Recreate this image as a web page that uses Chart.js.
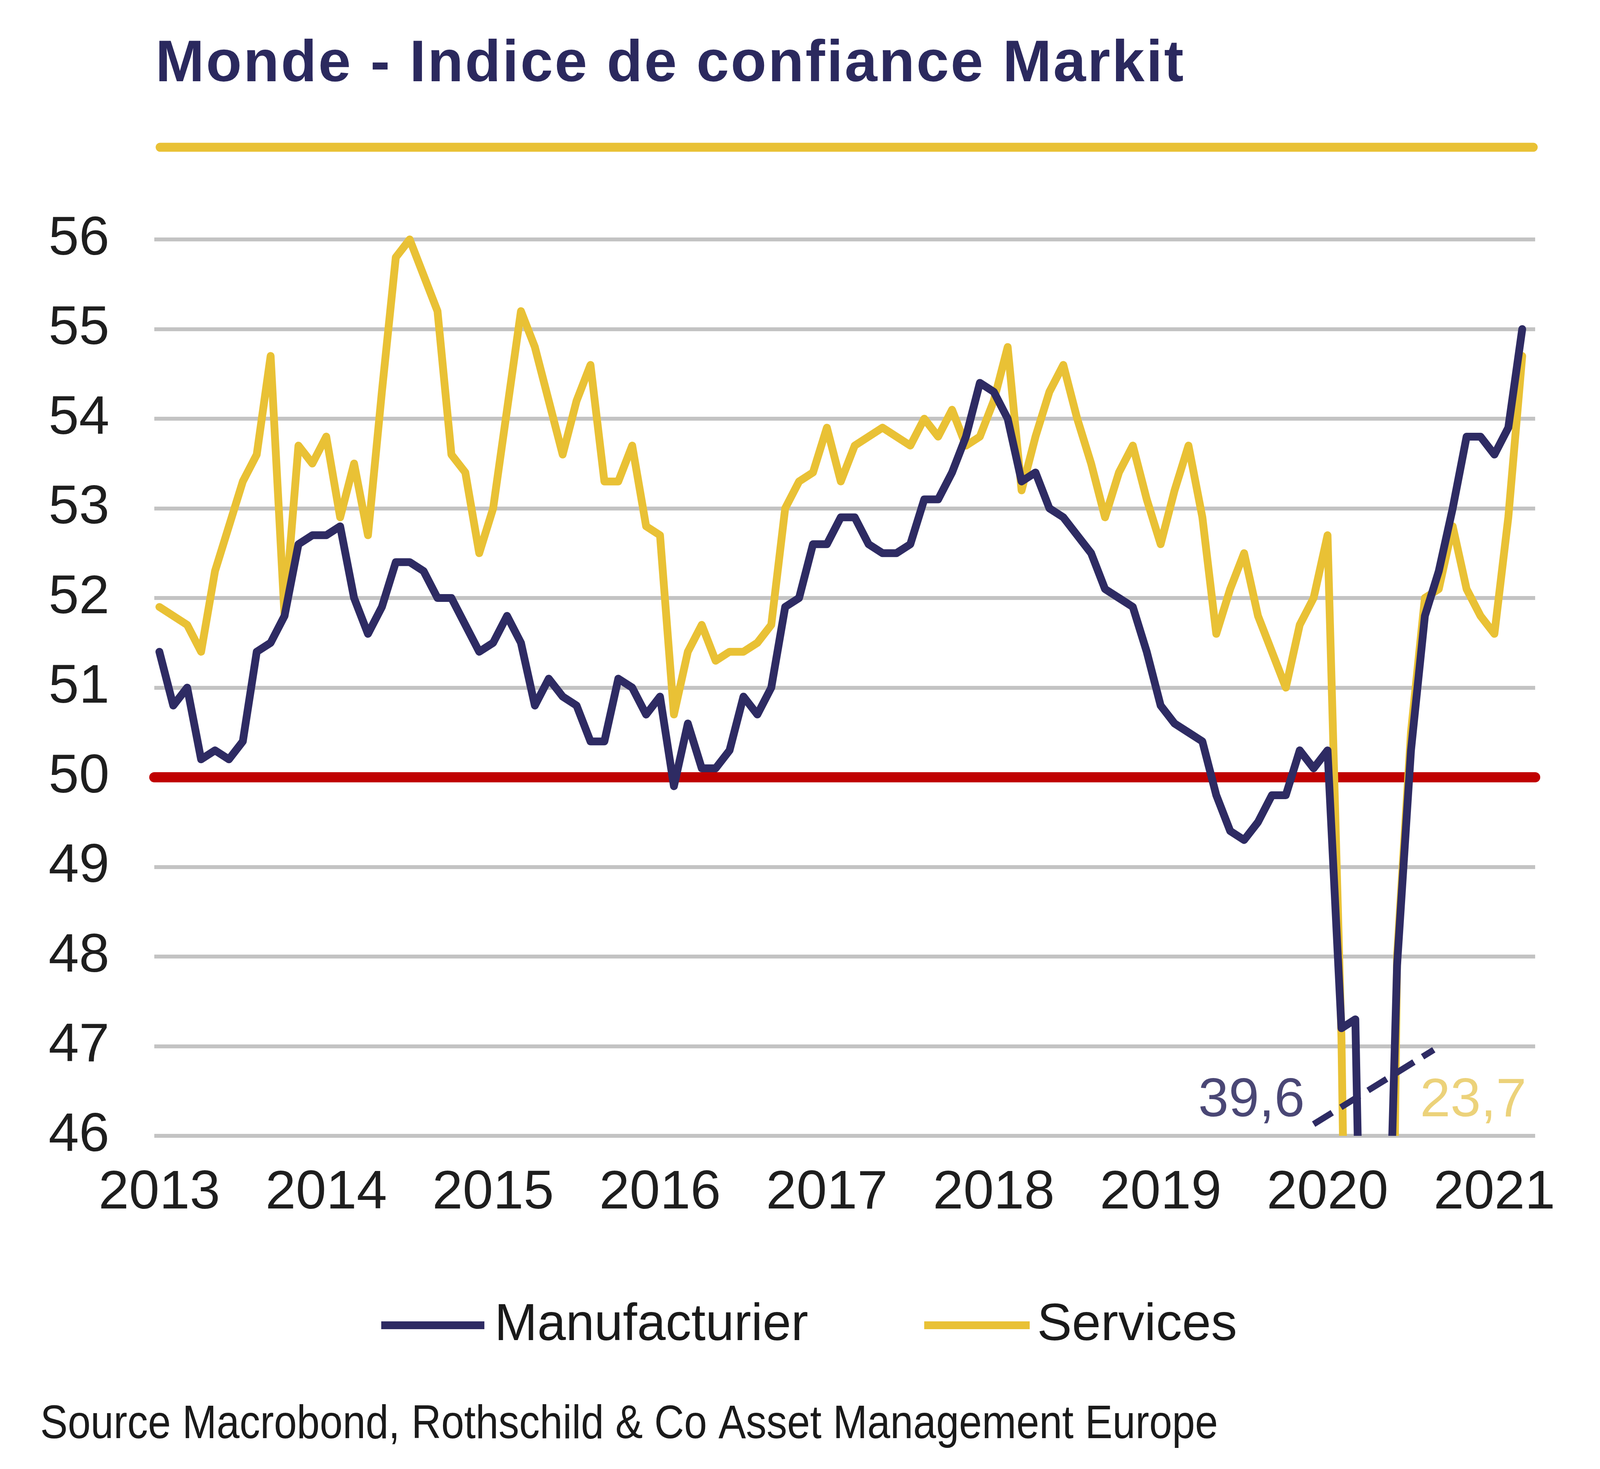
<!DOCTYPE html>
<html>
<head>
<meta charset="utf-8">
<script src="https://cdn.jsdelivr.net/npm/chart.js@4.4.1/dist/chart.umd.min.js"></script>
<style>
  html, body { margin: 0; padding: 0; background: #fff; }
</style>
</head>
<body>
<canvas id="myChart" width="4224" height="3761"></canvas>
<script>
// Data, one value per month from Jan 2013 to Mar 2021
let yearLabels = ['2013', '2014', '2015', '2016', '2017', '2018', '2019', '2020', '2021'];
let seriesNames = ['Manufacturier', 'Services'];
let seriesColors = ['#2e2b63', '#e9c135'];
let threshold = 50;

let manufacturier = [
  51.4, 50.8, 51.0, 50.2, 50.3, 50.2, 50.4, 51.4, 51.5, 51.8, 52.6, 52.7,
  52.7, 52.8, 52.0, 51.6, 51.9, 52.4, 52.4, 52.3, 52.0, 52.0, 51.7, 51.4,
  51.5, 51.8, 51.5, 50.8, 51.1, 50.9, 50.8, 50.4, 50.4, 51.1, 51.0, 50.7,
  50.9, 49.9, 50.6, 50.1, 50.1, 50.3, 50.9, 50.7, 51.0, 51.9, 52.0, 52.6,
  52.6, 52.9, 52.9, 52.6, 52.5, 52.5, 52.6, 53.1, 53.1, 53.4, 53.8, 54.4,
  54.3, 54.0, 53.3, 53.4, 53.0, 52.9, 52.7, 52.5, 52.1, 52.0, 51.9, 51.4,
  50.8, 50.6, 50.5, 50.4, 49.8, 49.4, 49.3, 49.5, 49.8, 49.8, 50.3, 50.1,
  50.3, 47.2, 47.3, 39.6, 42.4, 47.9, 50.3, 51.8, 52.3, 53.0, 53.8, 53.8,
  53.6, 53.9, 55.0
];

let services = [
  51.9, 51.8, 51.7, 51.4, 52.3, 52.8, 53.3, 53.6, 54.7, 51.8, 53.7, 53.5,
  53.8, 52.9, 53.5, 52.7, 54.3, 55.8, 56.0, 55.6, 55.2, 53.6, 53.4, 52.5,
  53.0, 54.1, 55.2, 54.8, 54.2, 53.6, 54.2, 54.6, 53.3, 53.3, 53.7, 52.8,
  52.7, 50.7, 51.4, 51.7, 51.3, 51.4, 51.4, 51.5, 51.7, 53.0, 53.3, 53.4,
  53.9, 53.3, 53.7, 53.8, 53.9, 53.8, 53.7, 54.0, 53.8, 54.1, 53.7, 53.8,
  54.2, 54.8, 53.2, 53.8, 54.3, 54.6, 54.0, 53.5, 52.9, 53.4, 53.7, 53.1,
  52.6, 53.2, 53.7, 52.9, 51.6, 52.1, 52.5, 51.8, 51.4, 51.0, 51.7, 52.0,
  52.7, 47.1, 37.0, 23.7, 35.1, 48.0, 50.5, 52.0, 52.1, 52.8, 52.1, 51.8,
  51.6, 52.9, 54.7
];

let fontFamily = '"Liberation Sans", Arial, sans-serif';

function toPoints(values) {
  return values.map((v, i) => ({ x: i, y: v }));
}

function fmt(v) {
  return v.toFixed(1).replace('.', ',');
}

// draws text squeezed or spread to a given width
function fitText(c, text, x, y, width) {
  let natural = c.measureText(text).width;
  if (natural >= width) {
    c.save();
    c.translate(x, y);
    c.scale(width / natural, 1);
    c.fillText(text, 0, 0);
    c.restore();
    return;
  }
  let extra = (width - natural) / (text.length - 1);
  let cx = x;
  for (let i = 0; i < text.length; i++) {
    c.fillText(text[i], cx, y);
    cx += c.measureText(text[i]).width + extra;
  }
}

let decor = {
  id: 'decor',
  beforeDatasetsDraw(chart) {
    let c = chart.ctx;
    let area = chart.chartArea;
    let y = chart.scales.y.getPixelForValue(threshold);
    c.save();
    c.strokeStyle = '#c00000';
    c.lineWidth = 26;
    c.lineCap = 'round';
    c.beginPath();
    c.moveTo(area.left, y);
    c.lineTo(area.right, y);
    c.stroke();
    c.restore();
  },
  afterDraw(chart) {
    let c = chart.ctx;
    let xs = chart.scales.x;
    let ys = chart.scales.y;
    c.save();
    c.textAlign = 'left';
    c.textBaseline = 'alphabetic';

    // title
    c.fillStyle = '#2b295e';
    c.font = 'bold 150px ' + fontFamily;
    fitText(c, 'Monde - Indice de confiance Markit', 398, 208, 2632);

    // gold rule under the title
    c.strokeStyle = '#e9c135';
    c.lineWidth = 23;
    c.lineCap = 'round';
    c.beginPath();
    c.moveTo(410, 377);
    c.lineTo(3925, 377);
    c.stroke();

    // axis break marker
    c.lineCap = 'butt';
    c.strokeStyle = seriesColors[0];
    c.lineWidth = 16;
    c.setLineDash([56, 26]);
    c.beginPath();
    c.moveTo(xs.getPixelForValue(83.0), ys.getPixelForValue(46.13));
    c.lineTo(xs.getPixelForValue(91.64), ys.getPixelForValue(46.96));
    c.stroke();
    c.setLineDash([]);

    // lowest values, off the scale
    c.font = '140px ' + fontFamily;
    c.fillStyle = '#4a4775';
    c.textAlign = 'right';
    c.fillText(fmt(Math.min(...manufacturier)), xs.getPixelForValue(82.36), ys.getPixelForValue(46.22));
    c.fillStyle = '#ecd27a';
    c.textAlign = 'left';
    c.fillText(fmt(Math.min(...services)), xs.getPixelForValue(90.65), ys.getPixelForValue(46.22));

    // legend
    let legendItems = [
      { lineFrom: 976, lineTo: 1240, textX: 1266, textW: 803 },
      { lineFrom: 2366, lineTo: 2636, textX: 2655, textW: 512 }
    ];
    c.font = '134px ' + fontFamily;
    legendItems.forEach((item, i) => {
      c.strokeStyle = seriesColors[i];
      c.lineWidth = 20;
      c.beginPath();
      c.moveTo(item.lineFrom, 3393);
      c.lineTo(item.lineTo, 3393);
      c.stroke();
      c.fillStyle = '#1a1a1a';
      fitText(c, seriesNames[i], item.textX, 3431, item.textW);
    });

    // source
    c.font = '120px ' + fontFamily;
    c.fillStyle = '#1a1a1a';
    fitText(c, 'Source Macrobond, Rothschild & Co Asset Management Europe', 103, 3682, 3015);
    c.restore();
  }
};

let ctx = document.getElementById('myChart').getContext('2d');
let myChart = new Chart(ctx, {
  type: 'line',
  data: {
    datasets: [
      {
        label: seriesNames[0],
        data: toPoints(manufacturier),
        borderColor: seriesColors[0],
        backgroundColor: seriesColors[0],
        borderWidth: 20,
        pointRadius: 0,
        tension: 0,
        borderJoinStyle: 'round',
        borderCapStyle: 'round',
        clip: { left: 30, right: 30, top: 30, bottom: 0 }
      },
      {
        label: seriesNames[1],
        data: toPoints(services),
        borderColor: seriesColors[1],
        backgroundColor: seriesColors[1],
        borderWidth: 20,
        pointRadius: 0,
        tension: 0,
        borderJoinStyle: 'round',
        borderCapStyle: 'round',
        clip: { left: 30, right: 30, top: 30, bottom: 0 }
      }
    ]
  },
  options: {
    responsive: false,
    devicePixelRatio: 1,
    animation: false,
    events: [],
    layout: { padding: { top: 613, right: 294, bottom: 630, left: 0 } },
    plugins: {
      legend: { display: false },
      title: { display: false },
      tooltip: { enabled: false }
    },
    scales: {
      x: {
        type: 'linear',
        min: -0.365,
        max: 98.93,
        grid: { display: false },
        border: { display: false },
        afterBuildTicks: (scale) => {
          scale.ticks = yearLabels.map((_, i) => ({ value: i * 12 }));
        },
        afterFit: (scale) => { scale.height = 223; },
        ticks: {
          autoSkip: false,
          maxRotation: 0,
          padding: 55,
          color: '#1e1e1e',
          font: { family: fontFamily, size: 140 },
          callback: (value) => yearLabels[Math.round(value / 12)]
        }
      },
      y: {
        min: 46,
        max: 56,
        afterFit: (scale) => { scale.width = 395; },
        grid: { color: '#c3c3c3', lineWidth: 10, drawTicks: false },
        border: { display: false },
        ticks: {
          stepSize: 1,
          padding: 115,
          color: '#1e1e1e',
          font: { family: fontFamily, size: 140 }
        }
      }
    }
  },
  plugins: [decor]
});
</script>
</body>
</html>
